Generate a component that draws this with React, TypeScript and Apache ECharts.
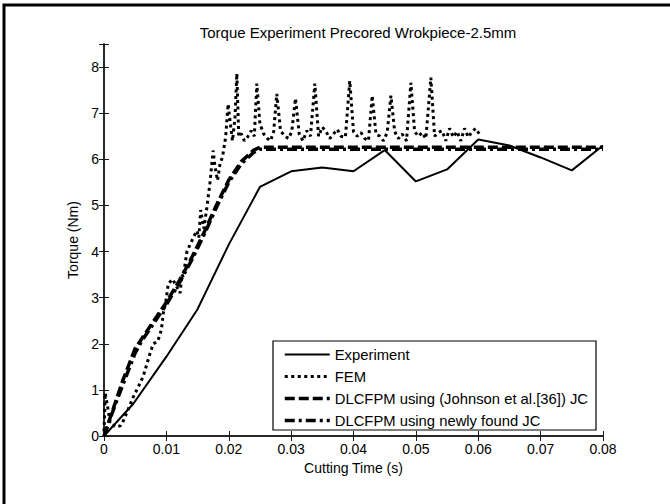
import React, { useEffect, useRef } from "react";
import * as echarts from "echarts";

const titleText = "Torque Experiment Precored Wrokpiece-2.5mm";
const xName = "Cutting Time (s)";
const yName = "Torque (Nm)";
const seriesNames = [
  "Experiment",
  "FEM",
  "DLCFPM using (Johnson et al.[36]) JC",
  "DLCFPM using newly found JC",
];

const expTime = [0, 0.0047, 0.01, 0.015, 0.02, 0.025, 0.03, 0.035, 0.04, 0.045, 0.05, 0.055, 0.06, 0.065, 0.07, 0.075, 0.08];
const expTorque = [0, 0.7, 1.72, 2.75, 4.15, 5.4, 5.74, 5.82, 5.74, 6.2, 5.52, 5.78, 6.43, 6.3, 6.04, 5.76, 6.3];

const femTime = [
  0, 0.0002, 0.0005, 0.001, 0.0018, 0.0026, 0.003, 0.0038, 0.0047, 0.0058, 0.0063, 0.0074, 0.0079, 0.0086,
  0.0092, 0.0095, 0.0099, 0.0103, 0.011, 0.0116, 0.0122, 0.0125, 0.0127, 0.0133, 0.0143, 0.0149, 0.0152,
  0.0155, 0.016, 0.0165, 0.017, 0.0175, 0.0178, 0.0182, 0.0186, 0.019, 0.0195, 0.0199, 0.0202, 0.0206,
  0.021, 0.0213, 0.0216, 0.022, 0.0225, 0.023, 0.0236, 0.0241, 0.0245, 0.025, 0.0256, 0.0262, 0.0267,
  0.0272, 0.0277, 0.0283, 0.029, 0.0296, 0.0301, 0.0307, 0.0313, 0.0319, 0.0325, 0.0331, 0.0338, 0.0344,
  0.035, 0.0356, 0.0362, 0.0368, 0.0374, 0.038, 0.0387, 0.0394, 0.04, 0.0406, 0.0412, 0.0418, 0.0424,
  0.043, 0.0436, 0.0442, 0.0448, 0.0454, 0.046, 0.0466, 0.0472, 0.0478, 0.0485, 0.0492, 0.0498, 0.0504,
  0.051, 0.0516, 0.0524, 0.053, 0.0536, 0.0542, 0.0548, 0.0554, 0.056, 0.0566, 0.0572, 0.0578, 0.0584,
  0.059, 0.0596, 0.0603,
];
const femTorque = [
  0.1, 0.93, 0.7, 0.28, 0.2, 0.22, 0.3, 0.55, 0.85, 1.15, 1.3, 1.8, 2.0, 2.05,
  2.3, 2.66, 2.9, 3.3, 3.4, 3.25, 3.1, 3.5, 3.45, 4.0, 4.3, 4.45, 4.3,
  4.9, 4.5, 4.96, 5.5, 6.19, 5.83, 5.54, 5.9, 6.05, 6.48, 7.2, 6.84, 6.4,
  6.9, 7.86, 6.5, 6.56, 6.4, 6.48, 6.62, 6.5, 7.64, 6.77, 6.55, 6.45, 6.4,
  6.6, 7.42, 6.62, 6.5, 6.45, 6.6, 7.32, 6.55, 6.4, 6.62, 6.5, 7.64, 6.5,
  6.7, 6.6, 6.45, 6.55, 6.65, 6.5, 6.48, 7.7, 6.6, 6.5, 6.58, 6.45, 6.4,
  7.38, 6.55, 6.5, 6.4, 6.58, 7.38, 6.6, 6.45, 6.55, 6.4, 7.66, 6.6, 6.5,
  6.58, 6.45, 7.77, 6.5, 6.58, 6.62, 6.4, 6.67, 6.48, 6.6, 6.4, 6.67, 6.48,
  6.6, 6.67, 6.52,
];

const jcTime = [0, 0.001, 0.002, 0.003, 0.004, 0.005, 0.006, 0.008, 0.01, 0.012, 0.014, 0.016, 0.018, 0.02, 0.022, 0.024, 0.025, 0.03, 0.04, 0.05, 0.06, 0.07, 0.08];
const jcTorque = [0, 0.4, 0.8, 1.2, 1.55, 1.9, 2.1, 2.5, 2.9, 3.35, 3.85, 4.4, 5.0, 5.55, 5.95, 6.2, 6.26, 6.26, 6.26, 6.26, 6.26, 6.26, 6.26];

const newTime = [0, 0.001, 0.002, 0.003, 0.004, 0.005, 0.006, 0.008, 0.01, 0.012, 0.014, 0.016, 0.018, 0.02, 0.022, 0.024, 0.025, 0.03, 0.04, 0.05, 0.06, 0.07, 0.08];
const newTorque = [0, 0.38, 0.75, 1.1, 1.45, 1.8, 2.05, 2.45, 2.85, 3.3, 3.8, 4.35, 4.95, 5.5, 5.9, 6.15, 6.22, 6.22, 6.22, 6.22, 6.22, 6.22, 6.22];

const pairs = (xs: number[], ys: number[]) => xs.map((x, i) => [x, ys[i]]);

const FONT = "'Liberation Sans', Arial, Helvetica, sans-serif";

export default function App() {
  const ref = useRef<HTMLDivElement>(null);

  useEffect(() => {
    if (!ref.current) return;
    const chart = echarts.init(ref.current, null, { renderer: "svg" });

    const styles = [
      { width: 2, type: "solid" as any },
      { width: 3, type: [3, 3.5] as any },
      { width: 3.5, type: [10, 4] as any },
      { width: 3.5, type: [10, 4, 3, 4] as any },
    ];
    const datas = [
      pairs(expTime, expTorque),
      pairs(femTime, femTorque),
      pairs(jcTime, jcTorque),
      pairs(newTime, newTorque),
    ];

    const axisLine = { show: true, lineStyle: { color: "#1a1a1a", width: 1.5 } };
    const tick = { show: true, inside: true, length: 5, lineStyle: { color: "#1a1a1a", width: 1 } };

    chart.setOption({
      animation: false,
      backgroundColor: "#fff",
      title: {
        text: titleText,
        left: 353,
        textAlign: "center",
        top: 20,
        textStyle: { fontFamily: FONT, fontSize: 15, fontWeight: "normal", color: "#000" },
      },
      grid: { left: 104, right: 67, top: 44, bottom: 68, containLabel: false },
      legend: {
        orient: "vertical",
        left: 283,
        top: 347,
        padding: 0,
        itemWidth: 45,
        itemHeight: 14,
        itemGap: 7,
        itemStyle: { opacity: 0 },
        textStyle: { fontFamily: FONT, fontSize: 14.8, color: "#000", lineHeight: 14 },
        data: seriesNames.map((n, i) => ({
          name: n,
          lineStyle: { width: styles[i].width, type: styles[i].type, color: "#000" },
        })),
      },
      graphic: [
        {
          type: "rect",
          shape: { x: 4, y: 5, width: 900, height: 900 },
          style: { fill: "none", stroke: "#000", lineWidth: 3 },
          silent: true,
        },
        {
          type: "rect",
          shape: { x: 273, y: 341, width: 323, height: 89 },
          style: { fill: "#fff", stroke: "#000", lineWidth: 1.2 },
          z: 3,
          silent: true,
        },
      ],
      xAxis: [
        {
          type: "value",
          min: 0,
          max: 0.08,
          interval: 0.01,
          position: "bottom",
          name: xName,
          nameLocation: "middle",
          nameGap: 23,
          nameTextStyle: { fontFamily: FONT, fontSize: 14, color: "#000" },
          axisLine,
          axisTick: tick,
          splitLine: { show: false },
          axisLabel: {
            fontFamily: FONT,
            fontSize: 14,
            color: "#000",
            margin: 6,
            formatter: (v: number) => (v === 0 ? "0" : String(+v.toFixed(2))),
          },
        },
        {
          type: "value",
          min: 0,
          max: 0.08,
          interval: 0.01,
          position: "top",
          axisLine,
          axisTick: tick,
          splitLine: { show: false },
          axisLabel: { show: false },
        },
      ],
      yAxis: [
        {
          type: "value",
          min: 0,
          max: 8.5,
          interval: 1,
          position: "left",
          name: yName,
          nameLocation: "middle",
          nameGap: 23,
          nameTextStyle: { fontFamily: FONT, fontSize: 14, color: "#000" },
          axisLine,
          axisTick: tick,
          splitLine: { show: false },
          axisLabel: {
            fontFamily: FONT,
            fontSize: 14,
            color: "#000",
            margin: 5,
            formatter: (v: number) => (Number.isInteger(v) ? String(v) : ""),
          },
        },
        {
          type: "value",
          min: 0,
          max: 8.5,
          interval: 1,
          position: "right",
          axisLine,
          axisTick: tick,
          splitLine: { show: false },
          axisLabel: { show: false },
        },
      ],
      series: seriesNames.map((n, i) => ({
        name: n,
        type: "line",
        xAxisIndex: 0,
        yAxisIndex: 0,
        data: datas[i],
        symbol: "none",
        showSymbol: false,
        lineStyle: { color: "#000", width: styles[i].width, type: styles[i].type },
        itemStyle: { color: "#000" },
        z: 2 + i,
      })),
    });

    return () => chart.dispose();
  }, []);

  return (
    <div
      ref={ref}
      style={{ position: "absolute", left: 0, top: 0, width: 670, height: 504, background: "#fff" }}
    />
  );
}
